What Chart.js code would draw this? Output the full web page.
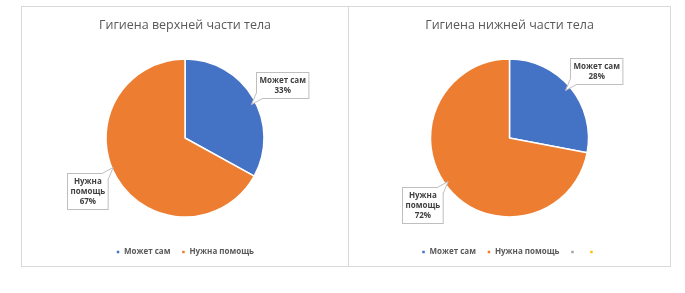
<!DOCTYPE html>
<html>
  <head>
    <meta charset="utf-8" />
    <title>Гигиена</title>
    <script src="https://cdn.jsdelivr.net/npm/chart.js"></script>
    <style>
      body { margin: 0; background: #fff; width: 685px; height: 293px; position: relative; overflow: hidden; }
      .box { position: absolute; border: 1px solid #d9d9d9; background: #fff; box-sizing: border-box; }
      #boxUpper { left: 21px; top: 6px; width: 328px; height: 261px; }
      #boxLower { left: 348px; top: 6px; width: 323px; height: 261px; }
    </style>
  </head>
  <body>
    <div class="box" id="boxUpper"><canvas id="upperChart"></canvas></div>
    <div class="box" id="boxLower"><canvas id="lowerChart"></canvas></div>

    <script>
      // данные диаграмм
      const upperTitle = "Гигиена верхней части тела";
      const upperLabels = ["Может сам", "Нужна помощь"];
      const upperValues = [33, 67];

      const lowerTitle = "Гигиена нижней части тела";
      const lowerLabels = ["Может сам", "Нужна помощь", "", ""];
      const lowerValues = [28, 72, 0, 0];

      const sliceColors = ["#4472C4", "#ED7D31", "#A5A5A5", "#FFC000"];

      // выноски с подписями как в Excel
      const calloutPlugin = {
        id: "callouts",
        afterDatasetsDraw(chart) {
          const ctx = chart.ctx;
          const values = chart.data.datasets[0].data;
          const total = values.reduce((a, b) => a + b, 0);
          const meta = chart.getDatasetMeta(0);
          ctx.save();
          ctx.font = "bold 8px 'Open Sans', sans-serif";
          meta.data.forEach((arc, i) => {
            const v = values[i];
            if (!v) return;
            const mid = (arc.startAngle + arc.endAngle) / 2;
            const r = arc.outerRadius;
            const cx = arc.x + Math.cos(mid) * r * 1.43;
            const cy = arc.y + Math.sin(mid) * r * 1.33;

            // перенос по словам
            const words = chart.data.labels[i].split(" ");
            const lines = [];
            let cur = "";
            words.forEach((w) => {
              const t = cur ? cur + " " + w : w;
              if (cur && ctx.measureText(t).width > 48) {
                lines.push(cur);
                cur = w;
              } else cur = t;
            });
            lines.push(cur);
            lines.push(Math.round((v / total) * 100) + "%");

            const lh = 10;
            const w = Math.max(...lines.map((l) => ctx.measureText(l).width)) + 6;
            const h = lines.length * lh + 6;
            const x0 = Math.round(cx - w / 2) + 0.5;
            const y0 = Math.round(cy - h / 2) + 0.5;

            // хвостик к сегменту
            const dx = Math.cos(mid) > 0 ? -1 : 1;
            const dy = Math.sin(mid) > 0 ? -1 : 1;
            const cornerX = dx < 0 ? x0 : x0 + w;
            const cornerY = dy < 0 ? y0 : y0 + h;
            ctx.strokeStyle = "#bfbfbf";
            ctx.lineWidth = 1;
            ctx.fillStyle = "#fff";
            ctx.fillRect(x0, y0, w, h);
            ctx.strokeRect(x0, y0, w, h);
            ctx.beginPath();
            ctx.moveTo(cornerX, cornerY - dy * 6);
            ctx.lineTo(cornerX + dx * 5, cornerY + dy * 6);
            ctx.lineTo(cornerX + dx * -6, cornerY);
            ctx.fill();
            ctx.stroke();
            ctx.fillRect(cornerX + dx * -5 - 0.5, cornerY - dy * 4 - 0.5, 3, 3);

            ctx.fillStyle = "#404040";
            ctx.textAlign = "center";
            ctx.textBaseline = "middle";
            lines.forEach((l, k) => {
              ctx.fillText(l, x0 + w / 2, y0 + 3 + lh / 2 + k * lh);
            });
          });
          ctx.restore();
        },
      };

      function makePie(id, title, labels, values) {
        const ctx = document.getElementById(id).getContext("2d");
        return new Chart(ctx, {
          type: "pie",
          data: {
            labels: labels,
            datasets: [
              {
                data: values,
                backgroundColor: sliceColors.slice(0, labels.length),
                borderColor: "#ffffff",
                borderWidth: 1.5,
                radius: 79,
              },
            ],
          },
          options: {
            responsive: true,
            maintainAspectRatio: false,
            animation: false,
            events: [],
            layout: { padding: 0 },
            plugins: {
              title: {
                display: true,
                text: title,
                color: "#595959",
                font: { family: "'Open Sans', sans-serif", size: 12.5, weight: "normal" },
                padding: { top: 11, bottom: 6 },
              },
              legend: {
                position: "bottom",
                labels: {
                  color: "#595959",
                  font: { family: "'Open Sans', sans-serif", size: 8, weight: "bold" },
                  usePointStyle: true,
                  pointStyle: "rect",
                  boxWidth: 4,
                  boxHeight: 4,
                  padding: 11,
                },
              },
              tooltip: { enabled: false },
            },
          },
          plugins: [calloutPlugin],
        });
      }

      makePie("upperChart", upperTitle, upperLabels, upperValues);
      makePie("lowerChart", lowerTitle, lowerLabels, lowerValues);
    </script>
  </body>
</html>
